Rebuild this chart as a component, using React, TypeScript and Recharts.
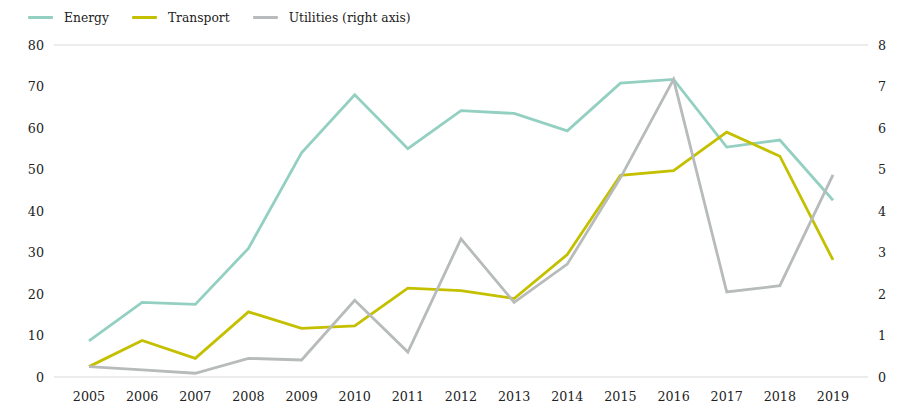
import React from "react";
import { LineChart, Line, XAxis, YAxis, CartesianGrid, Legend } from "recharts";

const years = ["2005", "2006", "2007", "2008", "2009", "2010", "2011", "2012", "2013", "2014", "2015", "2016", "2017", "2018", "2019"];
const energy = [8.7, 18, 17.5, 31, 54, 68, 55, 64.2, 63.5, 59.3, 70.8, 71.7, 55.4, 57.1, 42.6];
const transport = [2.5, 8.8, 4.5, 15.7, 11.7, 12.3, 21.4, 20.8, 18.9, 29.5, 48.6, 49.7, 59, 53.2, 28.2];
const utilities = [0.25, 0.17, 0.09, 0.45, 0.41, 1.85, 0.6, 3.33, 1.8, 2.72, 4.8, 7.17, 2.05, 2.2, 4.87];
const leftTicks = [0, 10, 20, 30, 40, 50, 60, 70, 80];
const rightTicks = [0, 1, 2, 3, 4, 5, 6, 7, 8];

const SERIES = [
  { key: "energy", name: "Energy", color: "#93d0c1", axis: "left" },
  { key: "transport", name: "Transport", color: "#c4c000", axis: "left" },
  { key: "utilities", name: "Utilities (right axis)", color: "#b8bbbb", axis: "right" },
];

const data = years.map((year, i) => ({
  year,
  energy: energy[i],
  transport: transport[i],
  utilities: utilities[i],
}));

const FONT = "'DejaVu Serif', serif";
const tickStyle = { fontSize: 12.7, fill: "#222", fontFamily: FONT };

const LegendContent = () => (
  <div style={{ display: "flex", alignItems: "center", fontFamily: FONT, fontSize: 12.3, color: "#222", height: 15 }}>
    {SERIES.map((s) => (
      <div key={s.key} style={{ display: "flex", alignItems: "center", marginRight: 23 }}>
        <span style={{ display: "inline-block", width: 25, height: 3, background: s.color, marginRight: 11, borderRadius: 1 }} />
        <span>{s.name}</span>
      </div>
    ))}
  </div>
);

export default function App() {
  return (
    <div style={{ position: "absolute", left: 0, top: 0, background: "#fff" }}>
      <LineChart width={915} height={413} data={data} margin={{ top: 30, right: 0, bottom: 0, left: 0 }}>
        <CartesianGrid vertical={false} stroke="#d9d9d9" />
        <XAxis
          dataKey="year"
          axisLine={false}
          tickLine={false}
          tick={tickStyle}
          tickMargin={9}
          height={36}
          padding={{ left: 35, right: 35 }}
          interval={0}
        />
        <YAxis
          yAxisId="left"
          domain={[0, 80]}
          ticks={leftTicks}
          axisLine={false}
          tickLine={false}
          tick={tickStyle}
          tickMargin={4}
          width={54}
        />
        <YAxis
          yAxisId="right"
          orientation="right"
          domain={[0, 8]}
          ticks={rightTicks}
          axisLine={false}
          tickLine={false}
          tick={{ ...tickStyle, textAnchor: "start" }}
          tickMargin={4}
          width={47}
        />
        <Legend
          verticalAlign="top"
          align="left"
          content={LegendContent}
          wrapperStyle={{ position: "absolute", top: 10, left: 28, width: "auto" }}
        />
        {SERIES.map((s) => (
          <Line
            key={s.key}
            yAxisId={s.axis}
            dataKey={s.key}
            name={s.name}
            stroke={s.color}
            strokeWidth={2.8}
            dot={false}
            activeDot={false}
            type="linear"
            isAnimationActive={false}
          />
        ))}
      </LineChart>
    </div>
  );
}
